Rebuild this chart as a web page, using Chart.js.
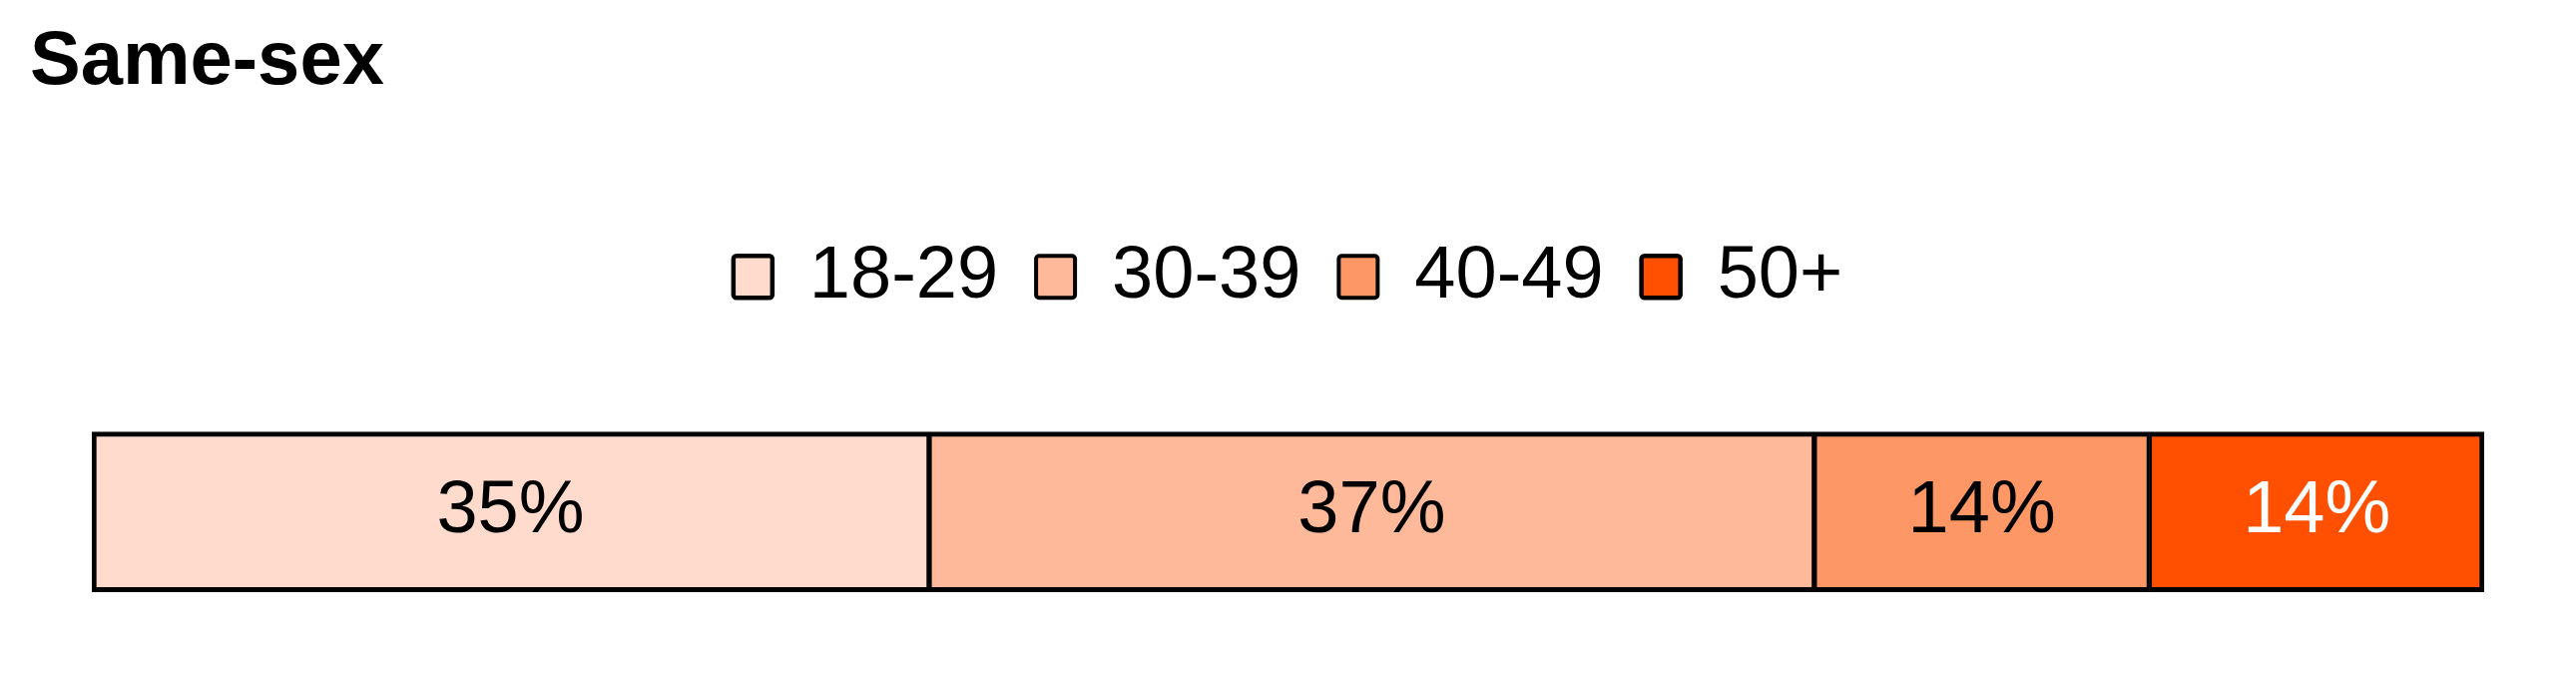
<!DOCTYPE html>
<html>
<head>
<meta charset="utf-8">
<script src="https://cdn.jsdelivr.net/npm/chart.js@4.4.1/dist/chart.umd.min.js"></script>
<style>
	html, body { margin: 0; padding: 0; background: #fff; }
	#wrap { width: 2581px; height: 685px; }
</style>
</head>
<body>
<div id="wrap"><canvas id="myChart"></canvas></div>
<script>
var categories = ['Same-sex'];
var ageGroups = ['18-29', '30-39', '40-49', '50+'];
var shares = [35, 37, 14, 14];
var colors = ['#FEDBCC', '#FDB999', '#FD9866', '#FE5000'];
var labelColors = ['#000', '#000', '#000', '#fff'];

var fontFamily = '"Liberation Sans", Arial, sans-serif';

// draws the percentage in the middle of every segment
var segmentLabels = {
	id: 'segmentLabels',
	afterDatasetsDraw: function(chart) {
		var ctx = chart.ctx;
		ctx.save();
		ctx.font = '74px ' + fontFamily;
		ctx.textAlign = 'center';
		ctx.textBaseline = 'middle';
		chart.data.datasets.forEach(function(ds, i) {
			chart.getDatasetMeta(i).data.forEach(function(bar, j) {
				var p = bar.getCenterPoint();
				ctx.fillStyle = labelColors[i];
				ctx.fillText(ds.data[j] + '%', p.x, p.y);
			});
		});
		ctx.restore();
	}
};

function updateChart() {
	var ctx = document.getElementById('myChart').getContext('2d');
	var last = ageGroups.length - 1;
	var datasets = ageGroups.map(function(name, i) {
		return {
			label: name,
			data: [shares[i]],
			backgroundColor: colors[i],
			borderColor: '#000',
			borderWidth: { top: 5, bottom: 5, left: i == 0 ? 5 : 3, right: i == last ? 5 : 3 },
			borderSkipped: false,
			barThickness: 160
		};
	});
	new Chart(ctx, {
		type: 'bar',
		data: { labels: categories, datasets: datasets },
		plugins: [segmentLabels],
		options: {
			indexAxis: 'y',
			responsive: true,
			maintainAspectRatio: false,
			animation: false,
			devicePixelRatio: 1,
			layout: { padding: { left: 30, right: 92, top: 0, bottom: 20 } },
			scales: {
				x: {
					stacked: true, min: 0, max: 100, position: 'top',
					ticks: { display: false },
					grid: { display: false },
					border: { display: false },
					afterFit: function(scale) { scale.height = 36; }
				},
				y: {
					stacked: true,
					ticks: { display: false },
					grid: { display: false },
					border: { display: false },
					afterFit: function(scale) { scale.width = 62; }
				}
			},
			plugins: {
				title: {
					display: true,
					text: 'Same-sex',
					align: 'start',
					color: '#000',
					font: { family: fontFamily, size: 76, weight: 'bold' },
					padding: { top: 17, bottom: 94 }
				},
				legend: {
					display: true,
					fullSize: false,
					labels: {
						color: '#000',
						font: { family: fontFamily, size: 74 },
						boxWidth: 39,
						boxHeight: 42,
						padding: 38,
						useBorderRadius: true,
						borderRadius: 3
					}
				},
				tooltip: { enabled: false }
			}
		}
	});
}

updateChart();
</script>
</body>
</html>
